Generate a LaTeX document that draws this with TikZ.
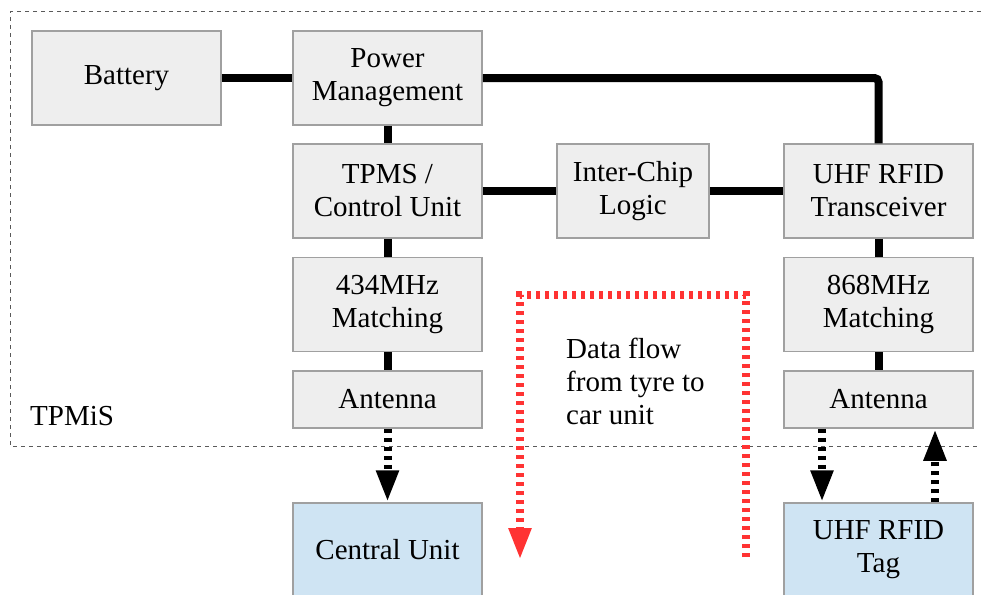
\documentclass[tikz,border=0pt]{standalone}
\usepackage{fontspec}
\setmainfont{Liberation Serif}
\usetikzlibrary{arrows.meta}
\definecolor{boxfill}{RGB}{238,238,238}
\definecolor{boxline}{RGB}{160,160,160}
\definecolor{extfill}{RGB}{207,228,243}
\definecolor{flowred}{RGB}{255,51,51}
\definecolor{framegray}{RGB}{90,90,90}
\tikzset{
  labelfont/.style={font=\fontsize{29}{33}\selectfont},
  blockbox/.style={draw=boxline, line width=1.5pt, fill=boxfill, align=center,
    minimum width=189pt, minimum height=94pt, inner sep=2pt, labelfont},
  extbox/.style={blockbox, fill=extfill},
  wire/.style={line width=8pt, black},
  radiolink/.style={line width=8pt, black, dash pattern=on 4pt off 5pt,
    -{Triangle[length=32pt,width=21pt]}},
  flowline/.style={line width=8pt, flowred, dash pattern=on 4pt off 5pt,
    -{Triangle[length=32pt,width=21pt]}},
  framestyle/.style={draw=framegray, line width=1pt, dash pattern=on 4pt off 4pt}
}
\begin{document}
\begin{tikzpicture}[x=1pt,y=-1pt]
\useasboundingbox[fill=white] (0,0) rectangle (981,594);

% system boundary (open to the right)
\draw[framestyle] (981,12) -- (10,12) -- (10,446) -- (981,446);
\node[anchor=base west, inner sep=0pt, labelfont] (sysname) at (30,425) {TPMiS};

% blocks
\node[blockbox] (bat)  at (126.5,78)  {Battery};
\node[blockbox] (pm)   at (387.5,78)  {Power\\Management};
\node[blockbox] (tpms) at (387.5,191) {TPMS /\\Control Unit};
\node[blockbox, minimum width=152pt] (icl) at (633,191) {Inter-Chip\\Logic};
\node[blockbox] (trx)  at (878.5,191) {UHF RFID\\Transceiver};
\node[blockbox] (m434) at (387.5,304.5) {434MHz\\Matching};
\node[blockbox, minimum height=57pt] (ant1) at (387.5,399.5) {Antenna};
\node[blockbox] (m868) at (878.5,304.5) {868MHz\\Matching};
\node[blockbox, minimum height=57pt] (ant2) at (878.5,399.5) {Antenna};
\node[extbox] (cu)  at (387.5,550) {Central Unit};
\node[extbox] (tag) at (878.5,550) {UHF RFID\\Tag};

% wired connections
\draw[wire] (bat) -- (pm);
\draw[wire, rounded corners=4pt] (pm.east) -- (pm.east -| trx.north) -- (trx.north);
\draw[wire] (pm) -- (tpms);
\draw[wire] (tpms) -- (icl);
\draw[wire] (icl) -- (trx);
\draw[wire] (tpms) -- (m434);
\draw[wire] (m434) -- (ant1);
\draw[wire] (trx) -- (m868);
\draw[wire] (m868) -- (ant2);

% radio links
\draw[radiolink] (ant1) -- (cu);
\draw[radiolink] ([xshift=-56.5pt]ant2.south) -- ([xshift=-56.5pt]tag.north);
\draw[radiolink] ([xshift=56.5pt]tag.north) -- ([xshift=56.5pt]ant2.south);

% data flow indication
\coordinate (flowStart) at (746,557);
\coordinate (flowRight) at (746,295);
\coordinate (flowLeft)  at (520,295);
\coordinate (flowEnd)   at (520,560);
\draw[flowline] (flowStart) -- (flowRight) -- (flowLeft) -- (flowEnd);
\node[anchor=north west, align=left, inner sep=0pt, labelfont] (flowtext) at (566,338)
      {Data flow\\from tyre to\\car unit};
\end{tikzpicture}
\end{document}
